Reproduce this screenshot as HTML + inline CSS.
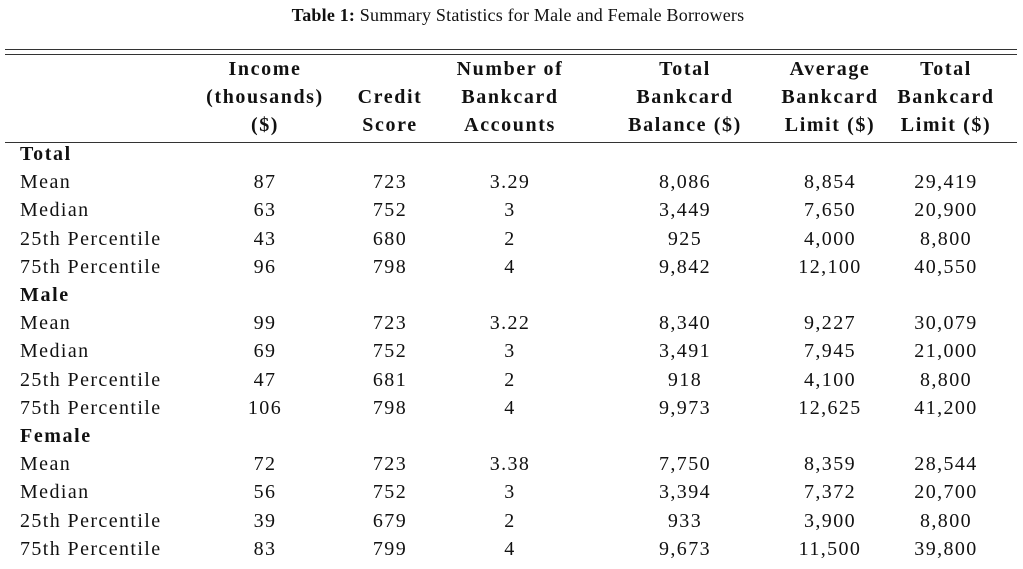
<!DOCTYPE html>
<html><head><meta charset="utf-8"><style>
body{margin:0;width:1023px;height:569px;background:#fff;font-family:"Liberation Serif",serif;color:#111;position:relative;overflow:hidden}
.t{position:absolute;font-size:20px;letter-spacing:1.4px;line-height:20px;white-space:nowrap}
.c{transform:translateX(-50%)}
.b{font-weight:bold;letter-spacing:1.6px}
.r{position:absolute;left:5px;width:1012px;background:#333}
</style></head><body>
<div class="t c" style="left:518px;top:5px;font-size:18px;letter-spacing:0.2px"><b>Table 1:</b> Summary Statistics for Male and Female Borrowers</div>
<div class="r" style="top:49px;height:1.3px"></div>
<div class="r" style="top:54px;height:1.3px"></div>
<div class="r" style="top:142px;height:1px"></div>
<div id="h"></div>
<script>
const cols=[265,390,510,685,830,946];
const hdr=[["Income","(thousands)","($)"],["","Credit","Score"],["Number of","Bankcard","Accounts"],["Total","Bankcard","Balance ($)"],["Average","Bankcard","Limit ($)"],["Total","Bankcard","Limit ($)"]];
let s="";
hdr.forEach((h,i)=>h.forEach((w,j)=>{if(w)s+=`<div class="t c b" style="left:${cols[i]}px;top:${59+j*28}px">${w}</div>`}));
const data=[["Total"],["Mean","87","723","3.29","8,086","8,854","29,419"],["Median","63","752","3","3,449","7,650","20,900"],["25th Percentile","43","680","2","925","4,000","8,800"],["75th Percentile","96","798","4","9,842","12,100","40,550"],
["Male"],["Mean","99","723","3.22","8,340","9,227","30,079"],["Median","69","752","3","3,491","7,945","21,000"],["25th Percentile","47","681","2","918","4,100","8,800"],["75th Percentile","106","798","4","9,973","12,625","41,200"],
["Female"],["Mean","72","723","3.38","7,750","8,359","28,544"],["Median","56","752","3","3,394","7,372","20,700"],["25th Percentile","39","679","2","933","3,900","8,800"],["75th Percentile","83","799","4","9,673","11,500","39,800"]];
data.forEach((r,i)=>{const y=144+i*28.2;
s+=`<div class="t${r.length==1?' b':''}" style="left:20px;top:${y}px">${r[0]}</div>`;
for(let k=1;k<r.length;k++)s+=`<div class="t c" style="left:${cols[k-1]}px;top:${y}px">${r[k]}</div>`;});
document.getElementById("h").innerHTML=s;
</script>
</body></html>
